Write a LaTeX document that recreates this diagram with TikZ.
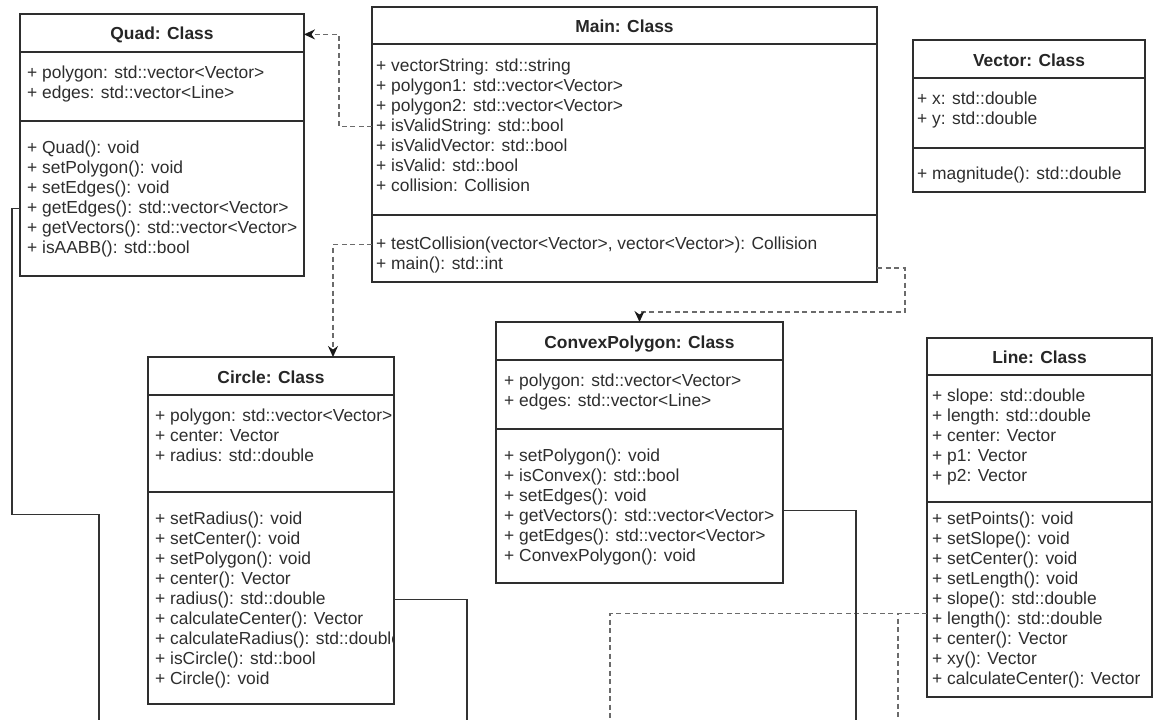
\documentclass[tikz,border=0pt]{standalone}
\usepackage{fontspec}
\setmainfont{Liberation Sans}
\usetikzlibrary{calc,arrows.meta}

\tikzset{
  umlbox/.style={draw=black!82, line width=1.5pt, fill=white, rectangle, inner sep=0pt, outer sep=0pt},
  member/.style={anchor=base west, inner sep=0pt, font=\fontsize{17.4}{20}\selectfont, text=black!82},
  classtitle/.style={anchor=base, inner sep=0pt, font=\fontsize{17.4}{20}\selectfont\bfseries, text=black!85},
  divider/.style={draw=black!82, line width=1.5pt},
  dep/.style={draw=black!58, line width=1.5pt, dash pattern=on 5pt off 3.5pt,
    -{Stealth[length=11pt,width=10pt,color=black!90]}},
  depline/.style={draw=black!58, line width=1.5pt, dash pattern=on 5pt off 3.5pt},
  assoc/.style={draw=black!80, line width=1.5pt},
}

% one member line per row, 20pt apart, first row centred at #3
\newcommand\memberrows[4]{%
  \foreach \t [count=\i] in {#4}
    \node[member] (#1\i) at (#2, {#3+6+(\i-1)*20}) {\t};}

\begin{document}
\begin{tikzpicture}[x=1pt,y=-1pt]
\useasboundingbox (0,0) rectangle (1162,720);
\fill[white] (0,0) rectangle (1162,720);

% ---------- Quad ----------
\node[umlbox, minimum width=284pt, minimum height=262pt] (quad) at (162,145) {};
\draw[divider] (quad.west |- 0,52) -- (quad.east |- 0,52);
\draw[divider] (quad.west |- 0,121) -- (quad.east |- 0,121);
\node[classtitle] (quadT) at (162,39) {Quad: Class};
\memberrows{quadA}{27}{72}{+ polygon: std::vector<Vector>, + edges: std::vector<Line>}
\memberrows{quadM}{27}{147}{+ Quad(): void, + setPolygon(): void, + setEdges(): void,
  + getEdges(): std::vector<Vector>, + getVectors(): std::vector<Vector>, + isAABB(): std::bool}

% ---------- Main ----------
\node[umlbox, minimum width=505pt, minimum height=275pt] (main) at (624.5,144.5) {};
\draw[divider] (main.west |- 0,44) -- (main.east |- 0,44);
\draw[divider] (main.west |- 0,215) -- (main.east |- 0,215);
\node[classtitle] (mainT) at (624.5,32) {Main: Class};
\memberrows{mainA}{376}{65}{+ vectorString: std::string, + polygon1: std::vector<Vector>,
  + polygon2: std::vector<Vector>, + isValidString: std::bool, + isValidVector: std::bool,
  + isValid: std::bool, + collision: Collision}
\memberrows{mainM}{376}{243}{{+ testCollision(vector<Vector>, vector<Vector>): Collision},
  + main(): std::int}

% ---------- Vector ----------
\node[umlbox, minimum width=232pt, minimum height=152pt] (vector) at (1029,116) {};
\draw[divider] (vector.west |- 0,78) -- (vector.east |- 0,78);
\draw[divider] (vector.west |- 0,148) -- (vector.east |- 0,148);
\node[classtitle] (vectorT) at (1029,66) {Vector: Class};
\memberrows{vectorA}{917}{98}{+ x: std::double, + y: std::double}
\memberrows{vectorM}{917}{173}{+ magnitude(): std::double}

% ---------- Circle ----------
\node[umlbox, minimum width=246pt, minimum height=347pt] (circle) at (271,530.5) {};
\draw[divider] (circle.west |- 0,395) -- (circle.east |- 0,395);
\draw[divider] (circle.west |- 0,492) -- (circle.east |- 0,492);
\node[classtitle] (circleT) at (271,383) {Circle: Class};
\begin{scope}
  \clip (148,357) rectangle (393,704);
  \memberrows{circleA}{155}{415}{+ polygon: std::vector<Vector>, + center: Vector, + radius: std::double}
  \memberrows{circleM}{155}{518}{+ setRadius(): void, + setCenter(): void, + setPolygon(): void,
    + center(): Vector, + radius(): std::double, + calculateCenter(): Vector,
    + calculateRadius(): std::double, + isCircle(): std::bool, + Circle(): void}
\end{scope}

% ---------- ConvexPolygon ----------
\node[umlbox, minimum width=287pt, minimum height=261pt] (convex) at (639.5,452.5) {};
\draw[divider] (convex.west |- 0,360) -- (convex.east |- 0,360);
\draw[divider] (convex.west |- 0,429) -- (convex.east |- 0,429);
\node[classtitle] (convexT) at (639.5,348) {ConvexPolygon: Class};
\memberrows{convexA}{504}{380}{+ polygon: std::vector<Vector>, + edges: std::vector<Line>}
\memberrows{convexM}{504}{455}{+ setPolygon(): void, + isConvex(): std::bool, + setEdges(): void,
  + getVectors(): std::vector<Vector>, + getEdges(): std::vector<Vector>, + ConvexPolygon(): void}

% ---------- Line ----------
\node[umlbox, minimum width=225pt, minimum height=359pt] (line) at (1039.5,517.5) {};
\draw[divider] (line.west |- 0,375) -- (line.east |- 0,375);
\draw[divider] (line.west |- 0,502) -- (line.east |- 0,502);
\node[classtitle] (lineT) at (1039.5,363) {Line: Class};
\memberrows{lineA}{932}{395}{+ slope: std::double, + length: std::double, + center: Vector,
  + p1: Vector, + p2: Vector}
\memberrows{lineM}{932}{518}{+ setPoints(): void, + setSlope(): void, + setCenter(): void,
  + setLength(): void, + slope(): std::double, + length(): std::double, + center(): Vector,
  + xy(): Vector, + calculateCenter(): Vector}

% ---------- free ends of the connectors that leave the page ----------
\coordinate (quadEnd) at (99,720);
\coordinate (circleEnd) at (467,720);
\coordinate (convexEnd) at (856,720);
\coordinate (lineEndA) at (610,720);
\coordinate (lineEndB) at (898,720);

% ---------- dependencies ----------
\draw[dep] (main.west |- mainA4) -- ++(-33,0) |- (quad.east |- quadT);
\draw[dep] (main.west |- mainM1) -| ([xshift=62pt]circle.north);
\draw[dep] ([yshift=14pt]main.south east) -- ++(28,0) -- ++(0,44) -| (convex.north);
\draw[depline] ($(line.west |- lineM5)+(0,14)$) -| (lineEndA);
\draw[depline] ($(line.west |- lineM5)+(0,14)$) -| (lineEndB);

% ---------- associations ----------
\draw[assoc] (quad.west |- quadM4) -- ++(-8,0) -- ++(0,306) -| (quadEnd);
\draw[assoc] (circle.east |- circleM5) -| (circleEnd);
\draw[assoc] ($(convex.east |- convexM4)+(0,-6)$) -| (convexEnd);
\end{tikzpicture}
\end{document}
